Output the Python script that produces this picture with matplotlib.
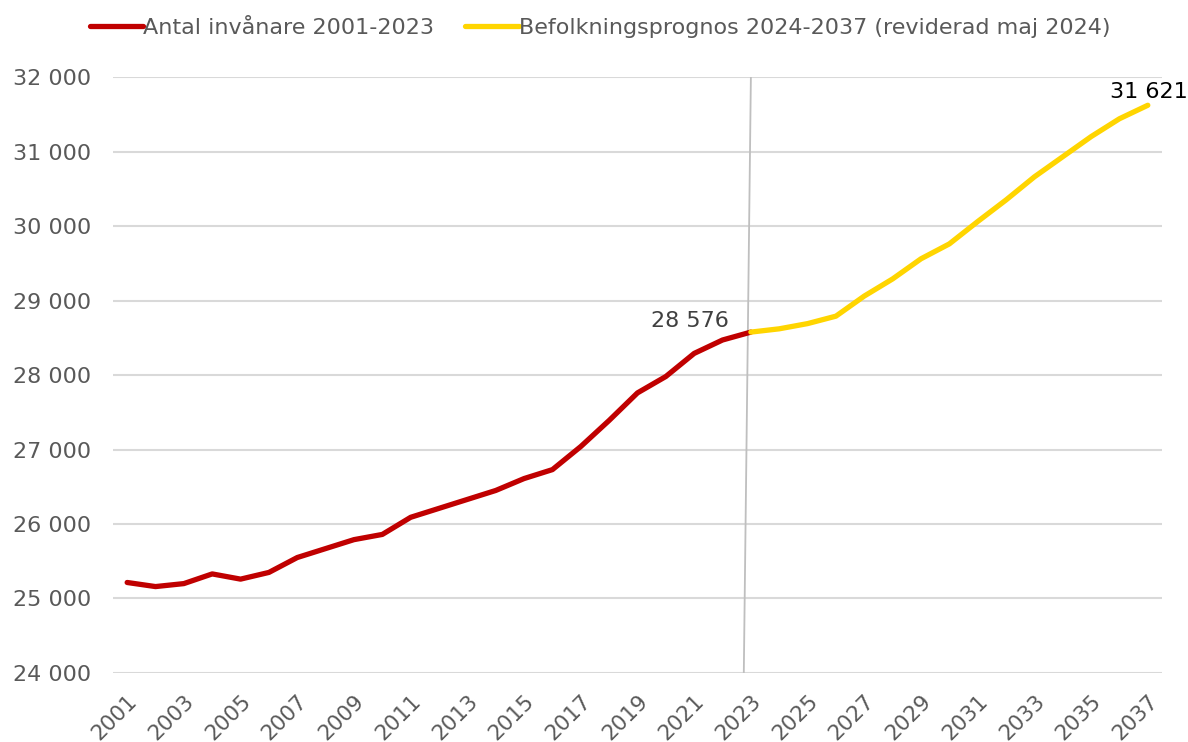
import matplotlib
matplotlib.use("Agg")
import matplotlib.pyplot as plt
from matplotlib.ticker import FuncFormatter

# =====================================================
# DATA
# =====================================================

years_hist = list(range(2001, 2024))
pop_hist = [25215, 25160, 25200, 25330, 25260, 25350, 25550, 25670,
            25790, 25860, 26090, 26210, 26330, 26450, 26610, 26730,
            27040, 27390, 27760, 27980, 28290, 28470, 28576]

years_prog = list(range(2023, 2038))
pop_prog = [28576, 28620, 28690, 28790, 29060, 29290, 29560, 29760,
            30060, 30350, 30660, 30930, 31200, 31440, 31621]

label_hist = "Antal invånare 2001-2023"
label_prog = "Befolkningsprognos 2024-2037 (reviderad maj 2024)"

tick_years = list(range(2001, 2038, 2))
y_ticks = list(range(24000, 33000, 1000))

# =====================================================
# STYLE
# =====================================================

plt.rcParams['font.family'] = ['DejaVu Sans']
txt_col = '#595959'
red = '#C00000'
yellow = '#FFD500'

fig = plt.figure(figsize=(11.88, 7.42), dpi=100)
ax = fig.add_axes([0.0951, 0.093, 0.8830, 0.8032])

# =====================================================
# LINES
# =====================================================

ax.plot(years_hist, pop_hist, color=red, lw=3.8,
        solid_capstyle='round', label=label_hist, zorder=3)
ax.plot(years_prog, pop_prog, color=yellow, lw=3.8,
        solid_capstyle='round', label=label_prog, zorder=3)

# tunn grå linje vid brytpunkten (lite sned i originalet)
ax.plot([years_hist[-1], years_hist[-1] - 0.25], [y_ticks[-1], y_ticks[0]],
        color='#bfbfbf', lw=1.3, zorder=2)

# =====================================================
# ANNOTATIONS
# =====================================================

ax.annotate(f"{pop_hist[-1]:,}".replace(",", " "),
            (years_hist[-1], pop_hist[-1]),
            xytext=(-16, 4), textcoords='offset points',
            ha='right', va='baseline', fontsize=16, color='#404040')

ax.annotate(f"{pop_prog[-1]:,}".replace(",", " "),
            (years_prog[-1], pop_prog[-1]),
            xytext=(-27, 5), textcoords='offset points',
            ha='left', va='baseline', fontsize=16, color='black')

# =====================================================
# AXES
# =====================================================

ax.set_xlim(2000.5, 2037.5)
ax.set_ylim(y_ticks[0], y_ticks[-1])
ax.set_yticks(y_ticks)
ax.yaxis.set_major_formatter(
    FuncFormatter(lambda v, p: f"{int(v):,}".replace(",", " ")))
ax.set_xticks(tick_years)
ax.set_xticklabels([str(y) for y in tick_years], rotation=45,
                   ha='right', rotation_mode='anchor')

ax.tick_params(axis='y', length=0, pad=16, labelsize=16, colors=txt_col)
ax.tick_params(axis='x', length=0, pad=13, labelsize=15.5, colors=txt_col)

ax.grid(axis='y', color='#d9d9d9', lw=1.5, zorder=0)
ax.set_axisbelow(True)
for s in ax.spines.values():
    s.set_visible(False)

# =====================================================
# LEGEND
# =====================================================

leg = fig.legend(loc='center', bbox_to_anchor=(0.505, 0.962), ncol=2,
                 frameon=False, fontsize=16, handlelength=2.4,
                 handletextpad=0.0, columnspacing=1.4)
for t in leg.get_texts():
    t.set_color(txt_col)

plt.savefig("out.png", dpi=100)
